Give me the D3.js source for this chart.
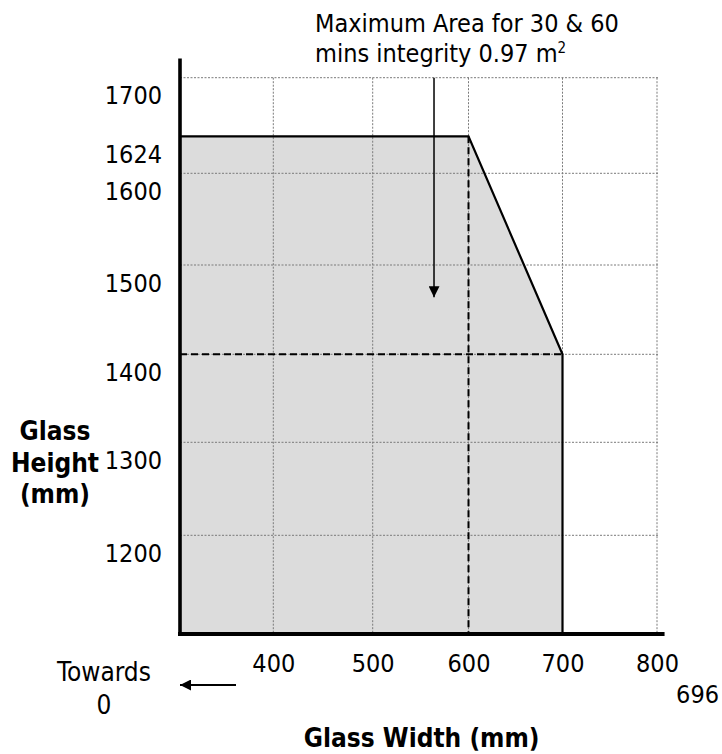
<!DOCTYPE html>
<html>
<head>
<meta charset="utf-8">
<script src="https://cdn.jsdelivr.net/npm/d3@7"></script>
<style>
  html, body { margin: 0; padding: 0; background: #fff; }
  svg { display: block; }
  text { font-family: "DejaVu Sans Condensed", "DejaVu Sans", sans-serif; font-stretch: condensed; fill: #000; }
</style>
</head>
<body>
<svg id="chart" width="722" height="754"></svg>
<script>
// ---- data ----
const xTickValues = [400, 500, 600, 700, 800];
const yTickValues = [1200, 1300, 1400, 1500, 1600, 1624, 1700];
const xGridValues = [400, 500, 600, 700, 800];
const yGridValues = [1200, 1300, 1400, 1500, 1600, 1700];
const axisOrigin = { w: 303, h: 1094 };
const axisEnd = { w: 808, h: 1725 };
// permitted envelope (width, height) in mm
const envelopeW = [303, 600, 700, 700];
const envelopeH = [1624, 1624, 1400, 1094];
// dashed reference lines
const refCornerW = 600;
const refCornerH = 1400;
const refRightW = 700;
const refTopH = 1624;
// annotation
const annotationLines = ["Maximum Area for 30 & 60", "mins integrity 0.97 m"];
const annotationSup = "2";
const annotationArrow = { w: 564, h1: 1700, h2: 1464 };
const xTitle = "Glass Width (mm)";
const yTitleLines = ["Glass", "Height", "(mm)"];
const towardsLines = ["Towards", "0"];
const cornerNote = "696";

// ---- scales (schematic, non-uniform as in the drawing) ----
const x = d3.scaleLinear()
  .domain([303, 400, 500, 600, 700, 800])
  .range([180, 273.3, 372.7, 468.5, 562.5, 657]);
const y = d3.scaleLinear()
  .domain([1094, 1200, 1300, 1400, 1500, 1600, 1624, 1700])
  .range([634, 535.3, 442.3, 354.3, 265, 173.3, 136.3, 77.7]);

const svg = d3.select("#chart");

// ---- envelope fill ----
const envPts = envelopeW.map((w, i) => [w, envelopeH[i]]);
const fillPts = envPts.concat([[axisOrigin.w, axisOrigin.h]]);
svg.append("path")
  .attr("d", d3.line().x(d => x(d[0])).y(d => y(d[1]))(fillPts) + "Z")
  .attr("fill", "#dcdcdc")
  .attr("stroke", "none");

// ---- grid ----
const grid = svg.append("g").attr("stroke", "#7a7a7a").attr("stroke-width", 1)
  .attr("stroke-dasharray", "2,1.5").attr("fill", "none");
grid.selectAll("line.v").data(xGridValues).join("line")
  .attr("class", "v")
  .attr("x1", d => x(d)).attr("x2", d => x(d))
  .attr("y1", y(1700)).attr("y2", y(axisOrigin.h));
grid.selectAll("line.h").data(yGridValues).join("line")
  .attr("class", "h")
  .attr("x1", x(axisOrigin.w)).attr("x2", x(800) + 1)
  .attr("y1", d => y(d)).attr("y2", d => y(d));

// ---- dashed reference lines ----
const dash = svg.append("g").attr("stroke", "#000").attr("stroke-width", 2)
  .attr("stroke-dasharray", "7,4").attr("fill", "none");
dash.append("line")
  .attr("x1", x(refCornerW)).attr("x2", x(refCornerW))
  .attr("y1", y(refTopH)).attr("y2", y(axisOrigin.h));
dash.append("line")
  .attr("x1", x(axisOrigin.w)).attr("x2", x(refRightW))
  .attr("y1", y(refCornerH)).attr("y2", y(refCornerH));

// ---- envelope outline ----
svg.append("path")
  .attr("d", d3.line().x(d => x(d[0])).y(d => y(d[1]))(envPts))
  .attr("fill", "none").attr("stroke", "#000").attr("stroke-width", 2.2);

// ---- axes lines ----
svg.append("line")
  .attr("x1", x(axisOrigin.w)).attr("x2", x(axisOrigin.w))
  .attr("y1", y(axisEnd.h)).attr("y2", y(axisOrigin.h) + 2)
  .attr("stroke", "#000").attr("stroke-width", 3.6);
svg.append("line")
  .attr("x1", x(axisOrigin.w) - 2).attr("x2", x(axisEnd.w))
  .attr("y1", y(axisOrigin.h)).attr("y2", y(axisOrigin.h))
  .attr("stroke", "#000").attr("stroke-width", 4);

// ---- tick labels via d3 axes ----
const yAxis = svg.append("g")
  .attr("transform", `translate(${x(axisOrigin.w)},0)`)
  .call(d3.axisLeft(y).tickValues(yTickValues).tickSize(0).tickPadding(18).tickFormat(d3.format("d")));
yAxis.select(".domain").remove();
yAxis.selectAll("text").attr("dy", 26).style("font-size", "25px");

const xAxis = svg.append("g")
  .attr("transform", `translate(0,${y(axisOrigin.h)})`)
  .call(d3.axisBottom(x).tickValues(xTickValues).tickSize(0).tickPadding(20).tickFormat(d3.format("d")));
xAxis.select(".domain").remove();
xAxis.selectAll("text").style("font-size", "25px");

// ---- annotation ----
const ann = svg.append("text").style("font-size", "25px").attr("x", 315);
ann.append("tspan").attr("x", 315).attr("y", 31.7).text(annotationLines[0]);
ann.append("tspan").attr("x", 315).attr("y", 61.7).text(annotationLines[1]);
ann.append("tspan").attr("dy", -9).style("font-size", "15px").text(annotationSup);

svg.append("defs").append("marker")
  .attr("id", "ah").attr("viewBox", "0 0 10 10").attr("refX", 10).attr("refY", 5)
  .attr("markerWidth", 10).attr("markerHeight", 10).attr("markerUnits", "userSpaceOnUse")
  .attr("orient", "auto")
  .append("path").attr("d", "M0,0 L10,5 L0,10 Z").attr("fill", "#000");
svg.select("defs").append("marker")
  .attr("id", "ah2").attr("viewBox", "0 0 10 10").attr("refX", 10).attr("refY", 5)
  .attr("markerWidth", 27).attr("markerHeight", 11).attr("markerUnits", "userSpaceOnUse")
  .attr("orient", "auto")
  .append("path").attr("d", "M0,0 L10,5 L0,10 Z").attr("fill", "#000");

svg.append("line")
  .attr("x1", x(annotationArrow.w)).attr("x2", x(annotationArrow.w))
  .attr("y1", y(annotationArrow.h1)).attr("y2", y(annotationArrow.h2))
  .attr("stroke", "#000").attr("stroke-width", 1.5)
  .attr("marker-end", "url(#ah)");
// make the annotation arrowhead taller
svg.select("#ah").attr("markerWidth", 27).attr("markerHeight", 11);

// ---- towards 0 ----
const tw = svg.append("text").style("font-size", "26px").attr("text-anchor", "middle");
tw.append("tspan").attr("x", 104).attr("y", 681).text(towardsLines[0]);
tw.append("tspan").attr("x", 104).attr("y", 714).text(towardsLines[1]);
svg.append("line")
  .attr("x1", 236).attr("x2", 180).attr("y1", 685).attr("y2", 685)
  .attr("stroke", "#000").attr("stroke-width", 2)
  .attr("marker-end", "url(#ah2)");

svg.append("text").style("font-size", "25px").attr("text-anchor", "end")
  .attr("x", 719).attr("y", 702.7).text(cornerNote);

// ---- axis titles ----
svg.append("text").style("font-size", "26px").style("font-weight", "bold")
  .attr("text-anchor", "middle").attr("x", 421.7).attr("y", 747).text(xTitle);
const yt = svg.append("text").style("font-size", "26px").style("font-weight", "bold")
  .attr("text-anchor", "middle");
yTitleLines.forEach((t, i) => {
  yt.append("tspan").attr("x", 55).attr("y", 440 + i * 31.5).text(t);
});
</script>
</body>
</html>
